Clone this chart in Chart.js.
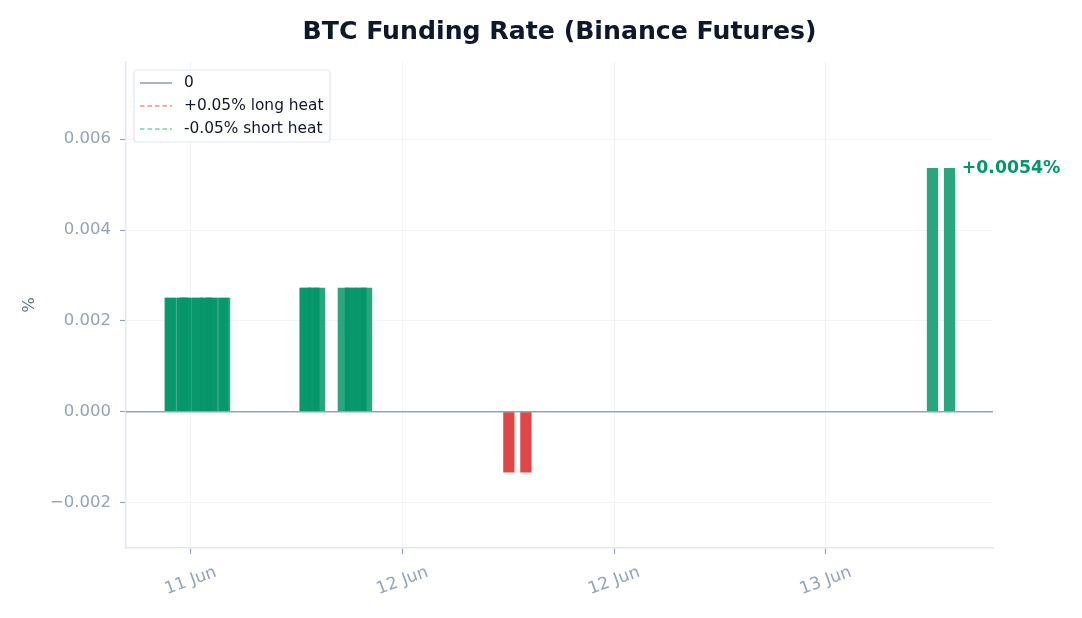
<!DOCTYPE html>
<html>
<head>
<meta charset="utf-8">
<script src="https://cdn.jsdelivr.net/npm/chart.js@4/dist/chart.umd.min.js"></script>
<style>
  html, body { margin: 0; padding: 0; background: #ffffff; }
  #wrap { width: 1082px; height: 618px; }
</style>
</head>
<body>
<div id="wrap"><canvas id="fundingChart" width="1082" height="618"></canvas></div>
<script>
// Funding records (time, rate in %)
const fundingTimes = [
  '11 Jun 10:50', '11 Jun 10:52', '11 Jun 11:30', '11 Jun 11:32', '11 Jun 11:42', '11 Jun 11:44',
  '11 Jun 12:21', '11 Jun 12:23', '11 Jun 12:52', '11 Jun 12:53', '11 Jun 13:10', '11 Jun 13:12',
  '11 Jun 13:49', '11 Jun 13:55',
  '11 Jun 18:29', '11 Jun 18:30', '11 Jun 18:58', '11 Jun 18:59', '11 Jun 19:18',
  '11 Jun 20:39', '11 Jun 21:03', '11 Jun 21:04', '11 Jun 21:38', '11 Jun 21:39', '11 Jun 21:58',
  '12 Jun 06:02', '12 Jun 07:00',
  '13 Jun 06:03', '13 Jun 07:01'
];
const fundingRates = [
  0.0025, 0.0025, 0.0025, 0.0025, 0.0025, 0.0025,
  0.0025, 0.0025, 0.0025, 0.0025, 0.0025, 0.0025,
  0.0025, 0.0025,
  0.00272, 0.00272, 0.00272, 0.00272, 0.00272,
  0.00272, 0.00272, 0.00272, 0.00272, 0.00272, 0.00272,
  -0.00133, -0.00133,
  0.00536, 0.00536
];

// reference lines
const heatLevels = [0.05, -0.05];

// axis ticks
const yTickValues = [-0.002, 0, 0.002, 0.004, 0.006];
const xTickHours = [12, 24, 36, 48];
const xTickLabels = ['11 Jun', '12 Jun', '12 Jun', '13 Jun'];

// view window (hours since 11 Jun 00:00, and %)
const xMin = 8.33, xMax = 57.48;
const yMin = -0.003, yMax = 0.0077;

const TITLE = 'BTC Funding Rate (Binance Futures)';
const GREEN = '#059669';
const FONT = '"DejaVu Sans", sans-serif';

function toHours(s) {
  const [d, , hm] = s.split(' ');
  const [hh, mm] = hm.split(':').map(Number);
  return (Number(d) - 11) * 24 + hh + mm / 60;
}

const barPoints = fundingTimes.map((t, i) => ({ x: toHours(t), y: fundingRates[i] }));

// draws title, rotated x labels, the last-value tag and the boxed legend
const overlay = {
  id: 'overlay',
  afterDraw(chart) {
    const { ctx, chartArea, scales: { x } } = chart;
    ctx.save();

    // title centred over the plot area
    ctx.font = 'bold 25.2px ' + FONT;
    ctx.fillStyle = '#0f172a';
    ctx.textAlign = 'center';
    ctx.textBaseline = 'middle';
    ctx.fillText(TITLE, (chartArea.left + chartArea.right) / 2, 32);

    ctx.font = '17px ' + FONT;
    ctx.fillStyle = '#94a3b8';
    x.ticks.forEach((t, i) => {
      ctx.save();
      ctx.translate(x.getPixelForValue(t.value), 581);
      ctx.rotate(-20 * Math.PI / 180);
      ctx.fillText(xTickLabels[i], 0, 0);
      ctx.restore();
    });

    // last value tag
    const meta = chart.getDatasetMeta(0);
    const lastBar = meta.data[meta.data.length - 1];
    const lastVal = fundingRates[fundingRates.length - 1];
    ctx.font = 'bold 17.3px ' + FONT;
    ctx.fillStyle = GREEN;
    ctx.textAlign = 'left';
    ctx.fillText((lastVal >= 0 ? '+' : '') + lastVal.toFixed(4) + '%', lastBar.x + lastBar.width / 2 + 7, lastBar.y);

    // legend box
    const lines = chart.data.datasets.filter(d => d.type === 'line');
    const bx = 134, by = 70, bw = 196, bh = 72;
    ctx.beginPath();
    ctx.roundRect(bx, by, bw, bh, 3);
    ctx.fillStyle = 'rgba(255,255,255,0.85)';
    ctx.fill();
    ctx.lineWidth = 1.2;
    ctx.strokeStyle = '#e2e8f0';
    ctx.stroke();
    ctx.font = '15.4px ' + FONT;
    lines.forEach((d, i) => {
      const ry = 83 + i * 23;
      ctx.beginPath();
      ctx.setLineDash(d.borderDash || []);
      ctx.strokeStyle = d.borderColor;
      ctx.lineWidth = d.borderWidth;
      ctx.moveTo(140, ry);
      ctx.lineTo(172, ry);
      ctx.stroke();
      ctx.setLineDash([]);
      ctx.fillStyle = '#111827';
      ctx.fillText(d.label, 184, ry);
    });
    ctx.restore();
  }
};

const gridStyle = { color: 'rgba(203,213,225,0.25)', tickColor: '#94a3b8', tickLength: 6, tickWidth: 1.2, offset: false };

const config = {
  type: 'bar',
  data: {
    datasets: [
      {
        label: 'funding',
        data: barPoints,
        backgroundColor: c => (c.raw && c.raw.y < 0) ? 'rgba(220,38,38,0.85)' : 'rgba(5,150,105,0.85)',
        barThickness: 10.6,
        borderWidth: 0,
        order: 2
      },
      {
        type: 'line',
        label: '0',
        data: [{ x: xMin, y: 0 }, { x: xMax, y: 0 }],
        borderColor: '#94a3b8',
        borderWidth: 1.6,
        pointRadius: 0,
        order: 1
      },
      {
        type: 'line',
        label: '+0.05% long heat',
        data: [{ x: xMin, y: heatLevels[0] }, { x: xMax, y: heatLevels[0] }],
        borderColor: 'rgba(239,68,68,0.6)',
        borderDash: [4.5, 3],
        borderWidth: 1.5,
        pointRadius: 0,
        order: 1
      },
      {
        type: 'line',
        label: '-0.05% short heat',
        data: [{ x: xMin, y: heatLevels[1] }, { x: xMax, y: heatLevels[1] }],
        borderColor: 'rgba(16,185,129,0.6)',
        borderDash: [4.5, 3],
        borderWidth: 1.5,
        pointRadius: 0,
        order: 1
      }
    ]
  },
  options: {
    responsive: false,
    animation: false,
    layout: { padding: { left: 0, right: 89, top: 62, bottom: 0 } },
    plugins: {
      legend: { display: false },
      tooltip: { enabled: false },
      title: { display: false }
    },
    scales: {
      x: {
        type: 'linear',
        min: xMin,
        max: xMax,
        offset: false,
        z: 1,
        afterBuildTicks: s => { s.ticks = xTickHours.map(v => ({ value: v })); },
        afterFit: s => { s.height = 70; },
        ticks: { display: false },
        grid: gridStyle,
        border: { color: '#e2e8f0', width: 1.5 }
      },
      y: {
        min: yMin,
        max: yMax,
        z: 1,
        afterBuildTicks: s => { s.ticks = yTickValues.map(v => ({ value: v })); },
        afterFit: s => { s.width = 126; },
        ticks: {
          color: '#94a3b8',
          padding: 9,
          font: { family: FONT, size: 16.5 },
          callback: v => (v < 0 ? '\u2212' : '') + Math.abs(v).toFixed(3)
        },
        grid: gridStyle,
        border: { color: '#e2e8f0', width: 1.5 },
        title: {
          display: true,
          text: '%',
          color: '#64748b',
          font: { family: FONT, size: 16.5 },
          padding: { top: 20, bottom: 0 }
        }
      }
    }
  },
  plugins: [overlay]
};

const ctx = document.getElementById('fundingChart').getContext('2d');
new Chart(ctx, config);
</script>
</body>
</html>
